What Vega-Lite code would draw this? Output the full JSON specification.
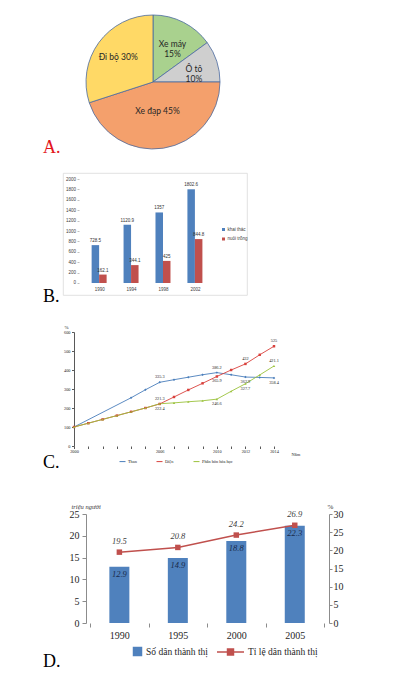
{
  "$schema": "https://vega.github.io/schema/vega-lite/v6.json",
  "padding": {"left": 42, "top": 13, "right": 5, "bottom": 5},
  "background": "white",
  "spacing": 15,
  "resolve": {
    "scale": {"color": "independent", "fill": "independent", "stroke": "independent", "shape": "independent", "theta": "independent"},
    "legend": {"color": "independent", "fill": "independent", "stroke": "independent", "shape": "independent"}
  },
  "config": {
    "view": {"stroke": null},
    "axis": {"grid": false, "labelFont": "Liberation Serif", "titleFont": "Liberation Serif"},
    "legend": {"labelFont": "Liberation Serif", "padding": 0},
    "text": {"font": "Liberation Serif"},
    "title": {"font": "Liberation Serif", "fontSize": 18, "fontWeight": "normal", "orient": "bottom", "anchor": "start", "frame": "group", "offset": 0, "color": "#000000"}
  },
  "datasets": {
    "pie": [
      {"k": "Xe máy", "pct": 15},
      {"k": "Ô tô", "pct": 10},
      {"k": "Xe đạp", "pct": 45},
      {"k": "Đi bộ", "pct": 30}
    ],
    "fish": [
      {"nam": 1990, "loai": "khai thác", "v": 728.5},
      {"nam": 1994, "loai": "khai thác", "v": 1120.9},
      {"nam": 1998, "loai": "khai thác", "v": 1357},
      {"nam": 2002, "loai": "khai thác", "v": 1802.6},
      {"nam": 1990, "loai": "nuôi trồng", "v": 162.1},
      {"nam": 1994, "loai": "nuôi trồng", "v": 344.1},
      {"nam": 1998, "loai": "nuôi trồng", "v": 425},
      {"nam": 2002, "loai": "nuôi trồng", "v": 844.8}
    ],
    "ind": [
      {"sp": "Than", "nam": 2000, "v": 100},
      {"sp": "Than", "nam": 2004, "v": 254},
      {"sp": "Than", "nam": 2005, "v": 296},
      {"sp": "Than", "nam": 2006, "v": 335.3},
      {"sp": "Than", "nam": 2007, "v": 349},
      {"sp": "Than", "nam": 2008, "v": 362},
      {"sp": "Than", "nam": 2009, "v": 375},
      {"sp": "Than", "nam": 2010, "v": 386.2},
      {"sp": "Than", "nam": 2011, "v": 375},
      {"sp": "Than", "nam": 2012, "v": 362.9},
      {"sp": "Than", "nam": 2013, "v": 361},
      {"sp": "Than", "nam": 2014, "v": 358.4},
      {"sp": "Điện", "nam": 2000, "v": 100},
      {"sp": "Điện", "nam": 2001, "v": 120},
      {"sp": "Điện", "nam": 2002, "v": 140},
      {"sp": "Điện", "nam": 2003, "v": 160},
      {"sp": "Điện", "nam": 2004, "v": 180},
      {"sp": "Điện", "nam": 2005, "v": 200},
      {"sp": "Điện", "nam": 2006, "v": 221.3},
      {"sp": "Điện", "nam": 2007, "v": 258},
      {"sp": "Điện", "nam": 2008, "v": 295},
      {"sp": "Điện", "nam": 2009, "v": 330},
      {"sp": "Điện", "nam": 2010, "v": 365.9},
      {"sp": "Điện", "nam": 2011, "v": 400},
      {"sp": "Điện", "nam": 2012, "v": 432},
      {"sp": "Điện", "nam": 2013, "v": 480},
      {"sp": "Điện", "nam": 2014, "v": 525},
      {"sp": "Phân bón hóa học", "nam": 2000, "v": 100},
      {"sp": "Phân bón hóa học", "nam": 2001, "v": 120},
      {"sp": "Phân bón hóa học", "nam": 2002, "v": 140},
      {"sp": "Phân bón hóa học", "nam": 2003, "v": 160},
      {"sp": "Phân bón hóa học", "nam": 2004, "v": 180},
      {"sp": "Phân bón hóa học", "nam": 2005, "v": 200},
      {"sp": "Phân bón hóa học", "nam": 2006, "v": 222.4},
      {"sp": "Phân bón hóa học", "nam": 2007, "v": 227},
      {"sp": "Phân bón hóa học", "nam": 2008, "v": 233},
      {"sp": "Phân bón hóa học", "nam": 2009, "v": 238},
      {"sp": "Phân bón hóa học", "nam": 2010, "v": 246.6},
      {"sp": "Phân bón hóa học", "nam": 2011, "v": 288},
      {"sp": "Phân bón hóa học", "nam": 2012, "v": 327.7},
      {"sp": "Phân bón hóa học", "nam": 2013, "v": 374},
      {"sp": "Phân bón hóa học", "nam": 2014, "v": 421.1}
    ],
    "urb": [
      {"nam": 1990, "so_dan": 12.9, "ti_le": 19.5},
      {"nam": 1995, "so_dan": 14.9, "ti_le": 20.8},
      {"nam": 2000, "so_dan": 18.8, "ti_le": 24.2},
      {"nam": 2005, "so_dan": 22.3, "ti_le": 26.9}
    ]
  },
  "vconcat": [
    {
      "width": 180,
      "height": 134,
      "title": {"text": "A.", "color": "#E3151B", "dx": -20, "dy": -16},
      "data": {"name": "pie"},
      "transform": [
        {"calculate": "indexof(['Xe máy', 'Ô tô', 'Xe đạp', 'Đi bộ'], datum.k)", "as": "idx"},
        {"calculate": "datum.k == 'Xe đạp' ? '' : (datum.k == 'Đi bộ' ? datum.k + ' ' + datum.pct + '%' : [datum.k, datum.pct + '%'])", "as": "nhan1"},
        {"calculate": "datum.k == 'Xe đạp' ? datum.k + ' ' + datum.pct + '%' : ''", "as": "nhan2"}
      ],
      "encoding": {
        "theta": {"field": "pct", "type": "quantitative", "stack": true},
        "order": {"field": "idx", "type": "quantitative"}
      },
      "layer": [
        {
          "mark": {"type": "arc", "stroke": "#4A6AA0", "strokeWidth": 0.8},
          "encoding": {
            "color": {
              "field": "k",
              "type": "nominal",
              "scale": {"domain": ["Xe máy", "Ô tô", "Xe đạp", "Đi bộ"], "range": ["#A9D18E", "#CFCFCF", "#F4A06C", "#FFD966"]},
              "legend": null
            }
          }
        },
        {
          "mark": {"type": "text", "radius": 43, "font": "Lato", "fontSize": 8.5, "color": "#262626", "lineHeight": 10},
          "encoding": {"text": {"field": "nhan1"}, "detail": {"field": "k"}}
        },
        {
          "mark": {"type": "text", "radius": 29, "font": "Lato", "fontSize": 8.5, "color": "#262626"},
          "encoding": {"text": {"field": "nhan2"}, "detail": {"field": "k"}}
        }
      ]
    },
    {
      "spacing": 17,
      "resolve": {
        "scale": {"color": "independent", "fill": "independent", "stroke": "independent", "shape": "independent"},
        "legend": {"color": "independent", "fill": "independent", "stroke": "independent", "shape": "independent"}
      },
      "vconcat": [
        {
          "width": 184,
          "height": 122,
          "view": {"stroke": "#D9D9D9", "strokeWidth": 0.8, "fill": "white"},
          "title": {"text": "B.", "dx": -20, "dy": -11},
          "data": {"name": "fish"},
          "encoding": {
            "x": {
              "field": "nam",
              "type": "quantitative",
              "scale": {"domain": [1986.1, 2007.9], "nice": false, "zero": false},
              "axis": {"values": [1990, 1994, 1998, 2002], "format": "d", "offset": -12, "domain": false, "ticks": false, "labelFont": "Liberation Sans", "labelFontSize": 4.5, "labelColor": "#404040", "labelPadding": 3, "labelFlush": false, "title": null}
            },
            "y": {
              "field": "v",
              "type": "quantitative",
              "scale": {"domain": [-231, 2116], "nice": false, "zero": false},
              "axis": {"values": [0, 200, 400, 600, 800, 1000, 1200, 1400, 1600, 1800, 2000], "format": "d", "offset": -16, "domain": false, "tickSize": 2, "tickColor": "#BFBFBF", "labelFont": "Liberation Sans", "labelFontSize": 4.5, "labelColor": "#404040", "labelPadding": 1.5, "title": null}
            }
          },
          "layer": [
            {
              "data": {"values": [{}]},
              "mark": {"type": "rule", "color": "#BFBFBF", "strokeWidth": 0.7},
              "encoding": {"x": {"datum": 1988}, "y": {"datum": 0}, "y2": {"datum": 2000}}
            },
            {
              "data": {"values": [{}]},
              "mark": {"type": "rule", "color": "#BFBFBF", "strokeWidth": 0.7},
              "encoding": {"x": {"datum": 1988}, "x2": {"datum": 2004}, "y": {"datum": 0}}
            },
            {
              "transform": [{"filter": "datum.loai == 'khai thác'"}],
              "mark": {"type": "bar", "width": 7.5, "xOffset": -3.75},
              "encoding": {
                "color": {
                  "field": "loai",
                  "type": "nominal",
                  "scale": {"domain": ["khai thác", "nuôi trồng"], "range": ["#4F81BD", "#C0504D"]},
                  "legend": {"orient": "none", "legendX": 158, "legendY": 54, "title": null, "symbolType": "square", "symbolSize": 9, "labelFont": "Liberation Sans", "labelFontSize": 4.5, "labelColor": "#404040", "rowPadding": 4.5, "labelOffset": 1.5}
                }
              }
            },
            {
              "transform": [{"filter": "datum.loai == 'nuôi trồng'"}],
              "mark": {"type": "bar", "width": 7.5, "xOffset": 3.75},
              "encoding": {
                "color": {
                  "field": "loai",
                  "type": "nominal",
                  "scale": {"domain": ["khai thác", "nuôi trồng"], "range": ["#4F81BD", "#C0504D"]}
                }
              }
            },
            {
              "transform": [{"filter": "datum.loai == 'khai thác'"}],
              "mark": {"type": "text", "dx": -3.75, "dy": -2, "baseline": "bottom", "font": "Liberation Sans", "fontSize": 4.5, "color": "#333333"},
              "encoding": {"text": {"field": "v", "type": "quantitative"}}
            },
            {
              "transform": [{"filter": "datum.loai == 'nuôi trồng'"}],
              "mark": {"type": "text", "dx": 3.75, "dy": -2, "baseline": "bottom", "font": "Liberation Sans", "fontSize": 4.5, "color": "#333333"},
              "encoding": {"text": {"field": "v", "type": "quantitative"}}
            }
          ]
        },
        {
          "spacing": 30,
          "resolve": {
            "scale": {"color": "independent", "fill": "independent", "stroke": "independent", "shape": "independent"},
            "legend": {"color": "independent", "fill": "independent", "stroke": "independent", "shape": "independent"}
          },
          "vconcat": [
            {
              "width": 223,
              "height": 114,
              "title": {"text": "C.", "dx": -20, "dy": -14},
              "data": {"name": "ind"},
              "encoding": {
                "x": {
                  "field": "nam",
                  "type": "quantitative",
                  "scale": {"domain": [1999.23, 2014.84], "nice": false, "zero": false},
                  "axis": {
                    "values": [2000, 2001, 2002, 2003, 2004, 2005, 2006, 2007, 2008, 2009, 2010, 2011, 2012, 2013, 2014],
                    "format": "d",
                    "labelExpr": "indexof([2000, 2006, 2010, 2012, 2014], datum.value) >= 0 ? datum.label : ''",
                    "labelOverlap": false,
                    "labelFlush": false,
                    "domain": false,
                    "tickSize": 2.5,
                    "tickColor": "#595959",
                    "labelFontSize": 4.3,
                    "labelColor": "#262626",
                    "labelPadding": 1,
                    "title": "Năm",
                    "titleX": 228,
                    "titleY": 8,
                    "titleAlign": "left",
                    "titleBaseline": "middle",
                    "titleFontSize": 4.5,
                    "titleFontWeight": "normal",
                    "titleColor": "#262626"
                  }
                },
                "y": {
                  "field": "v",
                  "type": "quantitative",
                  "scale": {"domain": [0, 600], "nice": false},
                  "axis": {
                    "values": [0, 100, 200, 300, 400, 500, 600],
                    "offset": -11,
                    "tickSize": 2.5,
                    "tickColor": "#595959",
                    "domainColor": "#595959",
                    "labelFontSize": 4.3,
                    "labelColor": "#262626",
                    "labelPadding": 1.5,
                    "labelFlush": false,
                    "title": "%",
                    "titleAngle": 0,
                    "titleX": -8,
                    "titleY": -6,
                    "titleAlign": "center",
                    "titleBaseline": "middle",
                    "titleFontSize": 5,
                    "titleFontWeight": "normal",
                    "titleColor": "#262626"
                  }
                },
                "color": {
                  "field": "sp",
                  "type": "nominal",
                  "scale": {"domain": ["Than", "Điện", "Phân bón hóa học"], "range": ["#4A7EBB", "#D9413C", "#9BC23C"]},
                  "legend": {"orient": "none", "legendX": 56, "legendY": 126, "direction": "horizontal", "title": null, "symbolType": "stroke", "symbolSize": 36, "symbolStrokeWidth": 1, "labelFontSize": 4.3, "labelColor": "#262626", "columnPadding": 17, "labelOffset": 2}
                }
              },
              "layer": [
                {
                  "data": {"values": [{}]},
                  "mark": {"type": "rule", "strokeWidth": 0.8},
                  "encoding": {"x": {"datum": 2000}, "x2": {"datum": 2014.84}, "y": {"datum": 0}, "color": {"value": "#595959"}}
                },
                {"mark": {"type": "line", "strokeWidth": 0.9}},
                {
                  "transform": [{"filter": "datum.sp == 'Than'"}],
                  "mark": {"type": "point", "shape": "diamond", "filled": true, "size": 6, "opacity": 1}
                },
                {
                  "transform": [{"filter": "datum.sp == 'Điện'"}],
                  "mark": {"type": "point", "shape": "square", "filled": true, "size": 6, "opacity": 1}
                },
                {
                  "transform": [{"filter": "datum.sp == 'Phân bón hóa học'"}],
                  "mark": {"type": "point", "shape": "triangle-up", "filled": true, "size": 6, "opacity": 1}
                },
                {
                  "transform": [{"filter": "(datum.sp == 'Than' && (datum.nam == 2006 || datum.nam == 2010)) || (datum.sp == 'Điện' && (datum.nam == 2006 || datum.nam == 2012 || datum.nam == 2014)) || (datum.sp == 'Phân bón hóa học' && datum.nam == 2014)"}],
                  "mark": {"type": "text", "dy": -3, "baseline": "bottom", "fontSize": 4.3},
                  "encoding": {"text": {"field": "v", "type": "quantitative"}, "color": {"value": "#262626"}}
                },
                {
                  "transform": [{"filter": "(datum.sp == 'Than' && (datum.nam == 2012 || datum.nam == 2014)) || (datum.sp == 'Điện' && datum.nam == 2010) || (datum.sp == 'Phân bón hóa học' && (datum.nam == 2006 || datum.nam == 2010 || datum.nam == 2012))"}],
                  "mark": {"type": "text", "dy": 3, "baseline": "top", "fontSize": 4.3},
                  "encoding": {"text": {"field": "v", "type": "quantitative"}, "color": {"value": "#262626"}}
                }
              ]
            },
            {
              "width": 266,
              "height": 109,
              "title": {"text": "D.", "dx": -20, "dy": -10},
              "data": {"name": "urb"},
              "encoding": {
                "x": {
                  "field": "nam",
                  "type": "quantitative",
                  "scale": {"domain": [1985.607, 2007.5], "nice": false, "zero": false},
                  "axis": {
                    "title": null,
                    "values": [1987.5, 1990, 1992.5, 1995, 1997.5, 2000, 2002.5, 2005, 2007.5],
                    "format": "d",
                    "labelExpr": "datum.value % 5 == 0 ? datum.label : ''",
                    "labelOverlap": false,
                    "labelFlush": false,
                    "domain": false,
                    "tickSize": 4,
                    "tickColor": "#8C8C8C",
                    "tickOpacity": {"condition": {"test": "datum.value % 5 == 0", "value": 0}, "value": 1},
                    "labelFontSize": 10,
                    "labelColor": "#262626",
                    "labelPadding": 3
                  }
                }
              },
              "layer": [
                {
                  "encoding": {
                    "y": {
                      "field": "so_dan",
                      "type": "quantitative",
                      "scale": {"domain": [0, 25], "nice": false},
                      "axis": {
                        "values": [0, 5, 10, 15, 20, 25],
                        "offset": -23,
                        "tickSize": 4,
                        "tickColor": "#8C8C8C",
                        "domainColor": "#8C8C8C",
                        "labelFontSize": 10,
                        "labelColor": "#262626",
                        "labelPadding": 3,
                        "title": "triệu người",
                        "titleAngle": 0,
                        "titleAlign": "left",
                        "titleBaseline": "bottom",
                        "titleX": -15,
                        "titleY": -5,
                        "titleFontStyle": "italic",
                        "titleFontSize": 6.5,
                        "titleFontWeight": "normal",
                        "titleColor": "#333333"
                      }
                    }
                  },
                  "layer": [
                    {
                      "data": {"values": [{}]},
                      "mark": {"type": "rule", "color": "#8C8C8C", "strokeWidth": 1},
                      "encoding": {"x": {"datum": 1987.5}, "x2": {"datum": 2007.5}, "y": {"datum": 0}}
                    },
                    {
                      "mark": {"type": "bar", "width": 20, "color": "#4F81BD"},
                      "encoding": {
                        "fill": {
                          "datum": "Số dân thành thị",
                          "scale": {"range": ["#4F81BD"]},
                          "legend": {"orient": "none", "legendX": 69, "legendY": 132, "title": null, "symbolType": "square", "symbolSize": 90, "labelFontSize": 9.5, "labelColor": "#262626", "labelOffset": 3}
                        }
                      }
                    },
                    {
                      "mark": {"type": "text", "baseline": "top", "dy": 3, "fontSize": 8.5, "fontStyle": "italic", "color": "#1A2B4C"},
                      "encoding": {"text": {"field": "so_dan", "type": "quantitative"}}
                    }
                  ]
                },
                {
                  "encoding": {
                    "y": {
                      "field": "ti_le",
                      "type": "quantitative",
                      "scale": {"domain": [0, 30], "nice": false},
                      "axis": {
                        "orient": "right",
                        "values": [0, 5, 10, 15, 20, 25, 30],
                        "tickSize": 3,
                        "tickColor": "#8C8C8C",
                        "domainColor": "#8C8C8C",
                        "labelFontSize": 10,
                        "labelColor": "#262626",
                        "labelPadding": 1,
                        "title": "%",
                        "titleAngle": 0,
                        "titleAlign": "center",
                        "titleBaseline": "bottom",
                        "titleX": 1,
                        "titleY": -5,
                        "titleFontSize": 7,
                        "titleFontWeight": "normal",
                        "titleColor": "#333333"
                      }
                    }
                  },
                  "layer": [
                    {
                      "mark": {"type": "line", "color": "#C0504D", "strokeWidth": 1.5},
                      "encoding": {
                        "stroke": {
                          "datum": "Tỉ lệ dân thành thị",
                          "scale": {"range": ["#C0504D"]},
                          "legend": {"orient": "none", "legendX": 153, "legendY": 123.5, "title": null, "symbolType": "M-1,0H1M-0.22,-0.22H0.22V0.22H-0.22Z", "symbolSize": 729, "symbolStrokeWidth": 1.5, "symbolFillColor": "#C0504D", "labelFontSize": 9.5, "labelColor": "#262626", "labelOffset": 3}
                        }
                      }
                    },
                    {"mark": {"type": "square", "size": 30, "color": "#C0504D", "filled": true, "opacity": 1}},
                    {
                      "mark": {"type": "text", "baseline": "bottom", "dy": -6, "fontSize": 8.5, "fontStyle": "italic", "color": "#404040"},
                      "encoding": {"text": {"field": "ti_le", "type": "quantitative"}}
                    }
                  ]
                }
              ],
              "resolve": {"scale": {"y": "independent"}}
            }
          ]
        }
      ]
    }
  ]
}
